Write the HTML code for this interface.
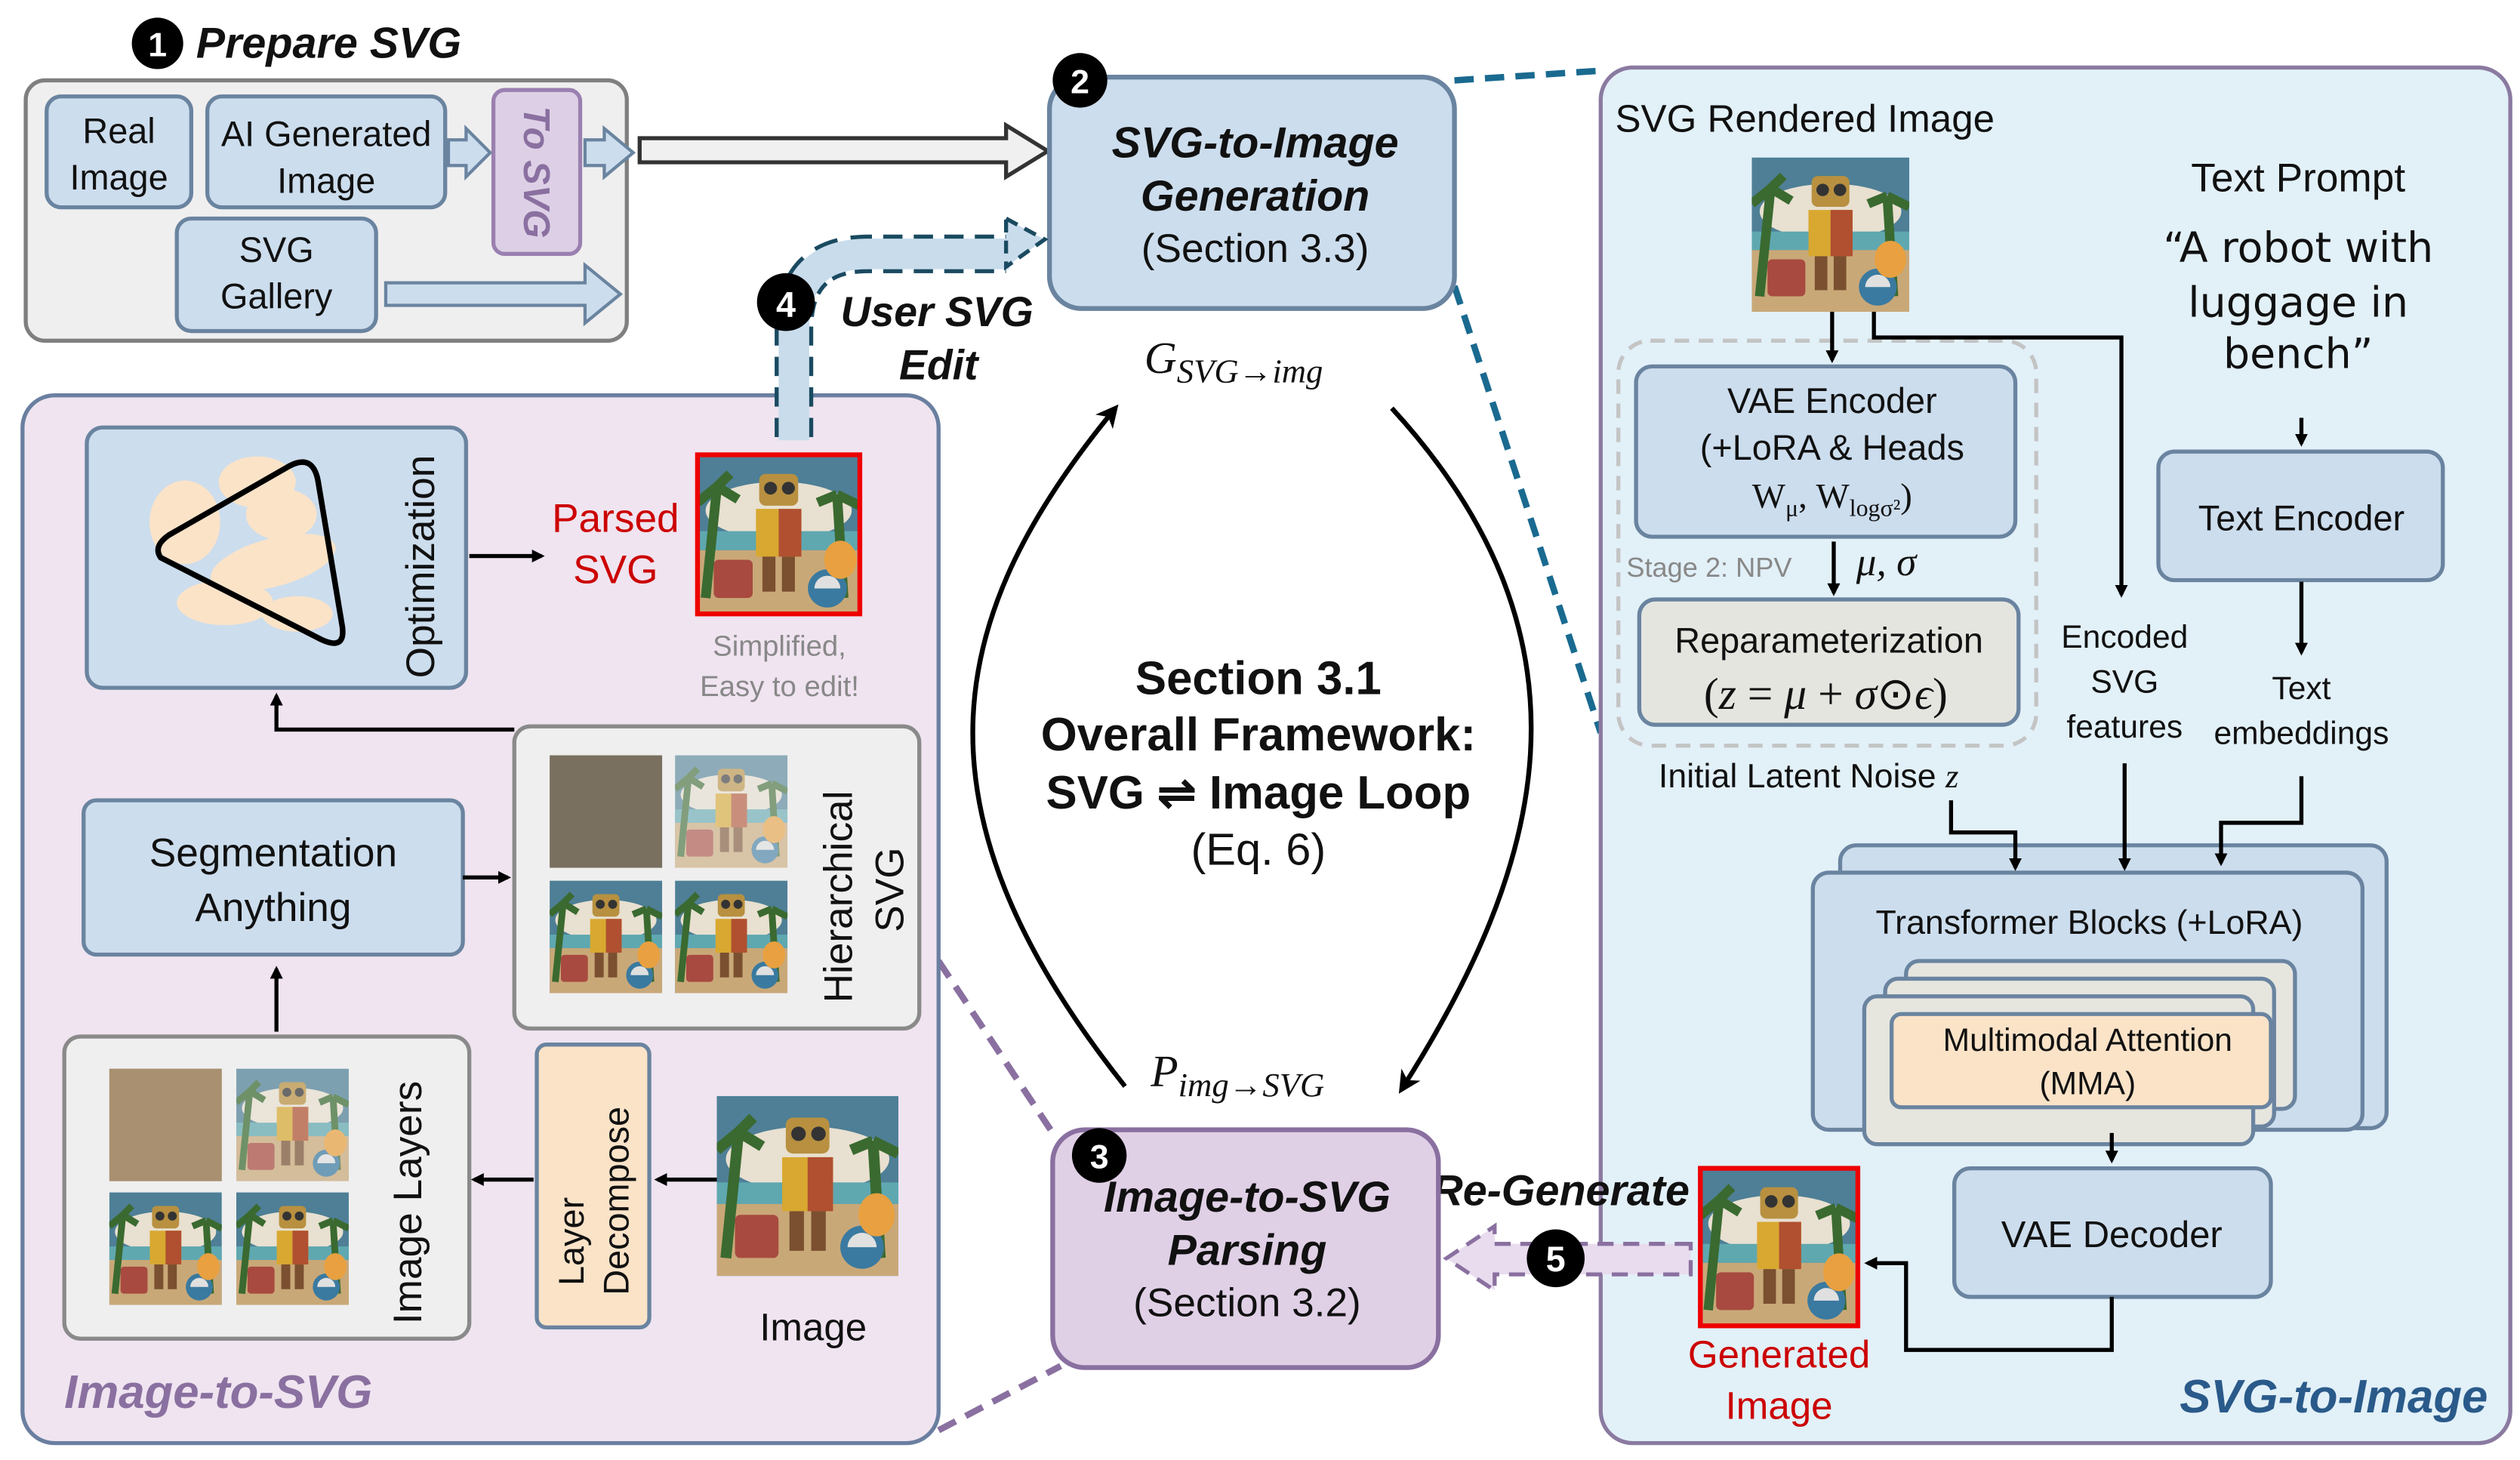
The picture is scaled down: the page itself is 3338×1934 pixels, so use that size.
<!DOCTYPE html>
<html><head><meta charset="utf-8"><style>
html,body{margin:0;padding:0;background:#fff;width:3338px;height:1934px;overflow:hidden}
svg{display:block}
text{font-family:"Liberation Sans",sans-serif;fill:#111}
.b{font-weight:bold}.i{font-style:italic}
.m{font-family:"Liberation Serif",serif;font-style:italic}
</style></head><body>
<svg width="3338" height="1934" viewBox="0 0 1568 908.5" xmlns="http://www.w3.org/2000/svg">
<defs>
<marker id="ah" markerWidth="8" markerHeight="8" refX="6" refY="4" orient="auto" markerUnits="userSpaceOnUse" viewBox="0 0 8 8"><path d="M0,0 L8,4 L0,8 Z" fill="#000"/></marker>
<marker id="ah2" markerWidth="14" markerHeight="14" refX="11" refY="7" orient="auto" markerUnits="userSpaceOnUse" viewBox="0 0 14 14"><path d="M0,0 L14,7 L0,14 L4,7 Z" fill="#000"/></marker>
<symbol id="robot" viewBox="0 0 100 100" preserveAspectRatio="none">
<rect width="100" height="100" fill="#4e7f96"/>
<ellipse cx="50" cy="35" rx="45" ry="18" fill="#e8e0d0"/>
<rect y="48" width="100" height="12" fill="#5fa8b0"/>
<rect y="60" width="100" height="40" fill="#c9a878"/>
<path d="M5,90 L12,20 M12,20 L0,30 M12,20 L25,28 M12,20 L20,12" stroke="#3a6a30" stroke-width="6"/>
<path d="M90,90 L86,25 M86,25 L100,32 M86,25 L74,30" stroke="#3a6a30" stroke-width="6"/>
<rect x="38" y="12" width="24" height="20" rx="4" fill="#b89040"/>
<circle cx="45" cy="21" r="4" fill="#333"/><circle cx="56" cy="21" r="4" fill="#333"/>
<rect x="36" y="34" width="28" height="30" fill="#d8a830"/>
<rect x="50" y="34" width="14" height="30" fill="#b05030"/>
<rect x="40" y="64" width="8" height="22" fill="#7a5030"/><rect x="52" y="64" width="8" height="22" fill="#7a5030"/>
<rect x="10" y="66" width="24" height="24" rx="3" fill="#a84a40"/>
<circle cx="80" cy="84" r="12" fill="#3a7aa0"/><path d="M72,84 A8,8 0 0 1 88,84" fill="#e0e0e0"/>
<ellipse cx="88" cy="66" rx="10" ry="12" fill="#e8a040"/>
</symbol>
</defs>

<!-- Prepare SVG -->
<circle cx="98" cy="27" r="16" fill="#000"/><text x="98" y="35" font-size="21" text-anchor="middle" class="b" style="fill:#fff">1</text>
<text x="122" y="36" font-size="27" class="b i">Prepare SVG</text>
<rect x="16" y="50" width="374" height="162" rx="12" fill="#efefef" stroke="#7f7f7f" stroke-width="2.5"/>
<rect x="29" y="60" width="90" height="69" rx="9" fill="#ccdded" stroke="#6a84a0" stroke-width="2.5"/>
<text x="74" y="89" font-size="22" text-anchor="middle">Real</text><text x="74" y="118" font-size="22" text-anchor="middle">Image</text>
<rect x="129" y="60" width="148" height="69" rx="9" fill="#ccdded" stroke="#6a84a0" stroke-width="2.5"/>
<text x="203" y="91" font-size="22" text-anchor="middle">AI Generated</text><text x="203" y="120" font-size="22" text-anchor="middle">Image</text>
<rect x="307" y="56" width="54" height="102" rx="7" fill="#ddd0e6" stroke="#9a80b0" stroke-width="2.5"/>
<text transform="translate(326,66) rotate(90)" font-size="23" class="b i" style="fill:#8a70a0">To SVG</text>
<rect x="110" y="136" width="124" height="70" rx="9" fill="#ccdded" stroke="#6a84a0" stroke-width="2.5"/>
<text x="172" y="163" font-size="22" text-anchor="middle">SVG</text><text x="172" y="192" font-size="22" text-anchor="middle">Gallery</text>
<path d="M279,87 L290,87 L290,80 L305,95 L290,110 L290,103 L279,103 Z" fill="#ccdded" stroke="#6a84a0" stroke-width="2"/>
<path d="M364,87 L376,87 L376,80 L394,95 L376,110 L376,103 L364,103 Z" fill="#ccdded" stroke="#6a84a0" stroke-width="2"/>
<path d="M240,176 L364,176 L364,165 L386,183 L364,201 L364,190 L240,190 Z" fill="#ccdded" stroke="#6a84a0" stroke-width="2"/>
<path d="M398,86 L626,86 L626,78 L652,94 L626,110 L626,101 L398,101 Z" fill="#f0f0f0" stroke="#333" stroke-width="2.5"/>

<!-- dashed connectors -->
<path d="M905,50 L996,44" stroke="#1a6a90" stroke-width="4" stroke-dasharray="12,7" fill="none"/>
<path d="M905,178 L996,456" stroke="#1a6a90" stroke-width="4" stroke-dasharray="12,7" fill="none"/>
<path d="M584,598 L655,705" stroke="#8a70a0" stroke-width="4" stroke-dasharray="12,7" fill="none"/>
<path d="M584,890 L660,850" stroke="#8a70a0" stroke-width="4" stroke-dasharray="12,7" fill="none"/>

<!-- Box 2 -->
<rect x="653" y="48" width="252" height="144" rx="20" fill="#ccdded" stroke="#6a84a0" stroke-width="3"/>
<circle cx="672" cy="50" r="17" fill="#000"/><text x="672" y="58" font-size="21" text-anchor="middle" class="b" style="fill:#fff">2</text>
<text x="781" y="98" font-size="27" text-anchor="middle" class="b i">SVG-to-Image</text>
<text x="781" y="131" font-size="27" text-anchor="middle" class="b i">Generation</text>
<text x="781" y="163" font-size="25" text-anchor="middle">(Section 3.3)</text>

<!-- Right panel -->
<rect x="996" y="42" width="566" height="856" rx="20" fill="#e2f0f8" stroke="#8a7aa0" stroke-width="2.5"/>
<text x="1005" y="82" font-size="24">SVG Rendered Image</text>
<use href="#robot" x="1090" y="98" width="98" height="96"/>
<text x="1430" y="119" font-size="25" text-anchor="middle">Text Prompt</text>
<text x="1430" y="163" font-size="26" text-anchor="middle" style="font-family:'DejaVu Sans',sans-serif">“A robot with</text>
<text x="1430" y="197" font-size="26" text-anchor="middle" style="font-family:'DejaVu Sans',sans-serif">luggage in</text>
<text x="1430" y="229" font-size="26" text-anchor="middle" style="font-family:'DejaVu Sans',sans-serif">bench”</text>
<rect x="1007" y="212" width="260" height="252" rx="20" fill="none" stroke="#c4c4c4" stroke-width="2.5" stroke-dasharray="9,6"/>
<rect x="1018" y="228" width="236" height="106" rx="10" fill="#ccdded" stroke="#6a84a0" stroke-width="2.5"/>
<text x="1140" y="257" font-size="22" text-anchor="middle">VAE Encoder</text>
<text x="1140" y="286" font-size="22" text-anchor="middle">(+LoRA &amp; Heads</text>
<text x="1140" y="316" font-size="22" text-anchor="middle" style="font-family:'Liberation Serif',serif">W<tspan font-size="15" dy="5">μ</tspan><tspan dy="-5">, W</tspan><tspan font-size="15" dy="5">logσ²</tspan><tspan dy="-5">)</tspan></text>
<text x="1012" y="359" font-size="17" style="fill:#888">Stage 2: NPV</text>
<line x1="1141" y1="337" x2="1141" y2="369" stroke="#000" stroke-width="2.5" marker-end="url(#ah)"/>
<text x="1155" y="358" font-size="25" class="m">μ, σ</text>
<rect x="1020" y="373" width="236" height="78" rx="10" fill="#e5e5e0" stroke="#6a84a0" stroke-width="2.5"/>
<text x="1138" y="406" font-size="22" text-anchor="middle">Reparameterization</text>
<text x="1136" y="441" font-size="28" text-anchor="middle" style="font-family:'Liberation Serif',serif">(<tspan font-style="italic">z</tspan> = <tspan font-style="italic">μ</tspan> + <tspan font-style="italic">σ</tspan>⊙<tspan font-style="italic">ϵ</tspan>)</text>
<text x="1032" y="490" font-size="21">Initial Latent Noise <tspan class="m">z</tspan></text>
<line x1="1140" y1="194" x2="1140" y2="224" stroke="#000" stroke-width="2.5" marker-end="url(#ah)"/>
<polyline points="1166,194 1166,210 1320,210 1320,370" fill="none" stroke="#000" stroke-width="2.5" marker-end="url(#ah)"/>
<text x="1322" y="403" font-size="20" text-anchor="middle">Encoded</text>
<text x="1322" y="431" font-size="20" text-anchor="middle">SVG</text>
<text x="1322" y="459" font-size="20" text-anchor="middle">features</text>
<line x1="1432" y1="260" x2="1432" y2="276" stroke="#000" stroke-width="2.5" marker-end="url(#ah)"/>
<rect x="1343" y="281" width="177" height="80" rx="10" fill="#ccdded" stroke="#6a84a0" stroke-width="2.5"/>
<text x="1432" y="330" font-size="22" text-anchor="middle">Text Encoder</text>
<line x1="1432" y1="362" x2="1432" y2="406" stroke="#000" stroke-width="2.5" marker-end="url(#ah)"/>
<text x="1432" y="435" font-size="20" text-anchor="middle">Text</text>
<text x="1432" y="463" font-size="20" text-anchor="middle">embeddings</text>
<rect x="1145" y="526" width="340" height="176" rx="10" fill="#ccdded" stroke="#6a84a0" stroke-width="2.5"/>
<rect x="1128" y="543" width="342" height="160" rx="10" fill="#ccdded" stroke="#6a84a0" stroke-width="2.5"/>
<text x="1300" y="581" font-size="21" text-anchor="middle">Transformer Blocks (+LoRA)</text>
<rect x="1186" y="598" width="242" height="92" rx="8" fill="#e6e6df" stroke="#6a84a0" stroke-width="2.5"/>
<rect x="1173" y="609" width="242" height="92" rx="8" fill="#e6e6df" stroke="#6a84a0" stroke-width="2.5"/>
<rect x="1160" y="620" width="242" height="92" rx="8" fill="#e6e6df" stroke="#6a84a0" stroke-width="2.5"/>
<rect x="1177" y="631" width="236" height="58" rx="6" fill="#fbe3c8" stroke="#6a84a0" stroke-width="2.5"/>
<text x="1299" y="654" font-size="20" text-anchor="middle">Multimodal Attention</text>
<text x="1299" y="681" font-size="20" text-anchor="middle">(MMA)</text>
<polyline points="1214,498 1214,518 1254,518 1254,540" fill="none" stroke="#000" stroke-width="2.5" marker-end="url(#ah)"/>
<line x1="1322" y1="475" x2="1322" y2="540" stroke="#000" stroke-width="2.5" marker-end="url(#ah)"/>
<polyline points="1432,483 1432,512 1382,512 1382,537" fill="none" stroke="#000" stroke-width="2.5" marker-end="url(#ah)"/>
<line x1="1314" y1="705" x2="1314" y2="722" stroke="#000" stroke-width="2.5" marker-end="url(#ah)"/>
<rect x="1216" y="727" width="197" height="80" rx="10" fill="#ccdded" stroke="#6a84a0" stroke-width="2.5"/>
<text x="1314" y="776" font-size="23" text-anchor="middle">VAE Decoder</text>
<polyline points="1314,807 1314,840 1186,840 1186,786 1162,786" fill="none" stroke="#000" stroke-width="2.5" marker-end="url(#ah)"/>
<use href="#robot" x="1058" y="727" width="98" height="98"/>
<rect x="1058" y="727" width="98" height="98" fill="none" stroke="#e00" stroke-width="3"/>
<text x="1107" y="851" font-size="24" text-anchor="middle" style="fill:#c00">Generated</text>
<text x="1107" y="883" font-size="24" text-anchor="middle" style="fill:#c00">Image</text>
<text x="1548" y="879" font-size="29" text-anchor="end" class="b i" style="fill:#2a5a8a">SVG-to-Image</text>

<!-- Re-generate arrow -->
<path d="M1052,774 L930,774 L930,763 L900,783 L930,803 L930,793 L1052,793 Z" fill="#e8dcee" stroke="#8a70a0" stroke-width="2.5" stroke-dasharray="10,6"/>
<circle cx="968" cy="783" r="18" fill="#000"/><text x="968" y="791" font-size="22" text-anchor="middle" class="b" style="fill:#fff">5</text>
<text x="971" y="750" font-size="27" text-anchor="middle" class="b i">Re-Generate</text>

<!-- Box 3 -->
<rect x="655" y="703" width="240" height="148" rx="20" fill="#e0d0e6" stroke="#8a70a0" stroke-width="3"/>
<text x="776" y="754" font-size="27" text-anchor="middle" class="b i">Image-to-SVG</text>
<text x="776" y="787" font-size="27" text-anchor="middle" class="b i">Parsing</text>
<text x="776" y="819" font-size="25" text-anchor="middle">(Section 3.2)</text>
<circle cx="684" cy="719" r="17" fill="#000"/><text x="684" y="727" font-size="21" text-anchor="middle" class="b" style="fill:#fff">3</text>

<!-- Loop -->
<path d="M700,676 C560,500 590,380 694,254" fill="none" stroke="#000" stroke-width="3" marker-end="url(#ah2)"/>
<path d="M866,254 C1000,400 960,540 872,678" fill="none" stroke="#000" stroke-width="3" marker-end="url(#ah2)"/>
<text x="712" y="232" font-size="28" class="m">G<tspan font-size="21" dy="6">SVG→img</tspan></text>
<text x="716" y="676" font-size="28" class="m">P<tspan font-size="21" dy="6">img→SVG</tspan></text>
<text x="783" y="432" font-size="29" text-anchor="middle" class="b">Section 3.1</text>
<text x="783" y="467" font-size="29" text-anchor="middle" class="b">Overall Framework:</text>
<text x="783" y="503" font-size="29" text-anchor="middle" class="b">SVG ⇌ Image Loop</text>
<text x="783" y="538" font-size="28" text-anchor="middle">(Eq. 6)</text>

<!-- Left panel -->
<rect x="14" y="246" width="570" height="652" rx="20" fill="#efe4f0" stroke="#6a7fa0" stroke-width="2.5"/>
<path d="M494,272 L494,205 Q494,158 540,158 L626,158" fill="none" stroke="#1a4a60" stroke-width="24" stroke-dasharray="12,7"/>
<path d="M494,274 L494,205 Q494,158 540,158 L628,158" fill="none" stroke="#c8dcec" stroke-width="19"/>
<path d="M626,136 L650,149 L626,166 Z" fill="#c8dcec" stroke="#1a4a60" stroke-width="2.5" stroke-dasharray="8,5"/>
<circle cx="489" cy="188" r="18" fill="#000"/><text x="489" y="197" font-size="22" text-anchor="middle" class="b" style="fill:#fff">4</text>
<text x="583" y="203" font-size="26" text-anchor="middle" class="b i">User SVG</text>
<text x="584" y="236" font-size="26" text-anchor="middle" class="b i">Edit</text>

<rect x="54" y="266" width="236" height="162" rx="10" fill="#ccdded" stroke="#6a84a0" stroke-width="2.5"/>
<g fill="#fbe3c8">
<ellipse cx="115" cy="325" rx="22" ry="26"/><ellipse cx="160" cy="300" rx="24" ry="16"/>
<ellipse cx="170" cy="350" rx="40" ry="15" transform="rotate(-15 170 350)"/>
<ellipse cx="140" cy="375" rx="30" ry="14"/><ellipse cx="185" cy="382" rx="22" ry="11"/>
<ellipse cx="175" cy="320" rx="22" ry="16"/>
</g>
<path d="M100,347 Q95,340 105,333 L180,290 Q195,282 198,300 L213,390 Q215,405 200,398 Z" fill="none" stroke="#000" stroke-width="3.5" stroke-linejoin="round"/>
<text transform="translate(270,422) rotate(-90)" font-size="25">Optimization</text>
<line x1="292" y1="346" x2="337" y2="346" stroke="#000" stroke-width="2.5" marker-end="url(#ah)"/>
<text x="383" y="331" font-size="25" text-anchor="middle" style="fill:#c00">Parsed</text>
<text x="383" y="363" font-size="25" text-anchor="middle" style="fill:#c00">SVG</text>
<use href="#robot" x="434" y="283" width="101" height="99"/>
<rect x="434" y="283" width="101" height="99" fill="none" stroke="#e00" stroke-width="3"/>
<text x="485" y="408" font-size="18" text-anchor="middle" style="fill:#888">Simplified,</text>
<text x="485" y="433" font-size="18" text-anchor="middle" style="fill:#888">Easy to edit!</text>

<polyline points="320,454 172,454 172,433" fill="none" stroke="#000" stroke-width="2.5" marker-end="url(#ah)"/>
<rect x="52" y="498" width="236" height="96" rx="8" fill="#ccdded" stroke="#6a84a0" stroke-width="2.5"/>
<text x="170" y="539" font-size="25" text-anchor="middle">Segmentation</text>
<text x="170" y="573" font-size="25" text-anchor="middle">Anything</text>
<line x1="288" y1="546" x2="316" y2="546" stroke="#000" stroke-width="2.5" marker-end="url(#ah)"/>
<rect x="320" y="452" width="252" height="188" rx="10" fill="#efefef" stroke="#8a8a8a" stroke-width="2.5"/>
<rect x="342" y="470" width="70" height="70" fill="#7a7060"/>
<use href="#robot" x="420" y="470" width="70" height="70" opacity="0.6"/>
<use href="#robot" x="342" y="548" width="70" height="70"/>
<use href="#robot" x="420" y="548" width="70" height="70"/>
<text transform="translate(530,624) rotate(-90)" font-size="25">Hierarchical</text>
<text transform="translate(562,580) rotate(-90)" font-size="25">SVG</text>

<line x1="172" y1="642" x2="172" y2="603" stroke="#000" stroke-width="2.5" marker-end="url(#ah)"/>
<rect x="40" y="645" width="252" height="188" rx="10" fill="#efefef" stroke="#8a8a8a" stroke-width="2.5"/>
<rect x="68" y="665" width="70" height="70" fill="#a89070"/>
<use href="#robot" x="147" y="665" width="70" height="70" opacity="0.7"/>
<use href="#robot" x="68" y="742" width="70" height="70"/>
<use href="#robot" x="147" y="742" width="70" height="70"/>
<text transform="translate(262,824) rotate(-90)" font-size="25">Image Layers</text>
<rect x="334" y="650" width="70" height="176" rx="6" fill="#fbe3c8" stroke="#6a84a0" stroke-width="2.5"/>
<text transform="translate(363,800) rotate(-90)" font-size="22">Layer</text>
<text transform="translate(391,806) rotate(-90)" font-size="22">Decompose</text>
<line x1="446" y1="734" x2="409" y2="734" stroke="#000" stroke-width="2.5" marker-end="url(#ah)"/>
<line x1="332" y1="734" x2="295" y2="734" stroke="#000" stroke-width="2.5" marker-end="url(#ah)"/>
<use href="#robot" x="446" y="682" width="113" height="112"/>
<text x="506" y="834" font-size="24" text-anchor="middle">Image</text>
<text x="40" y="876" font-size="29" class="b i" style="fill:#8a70a0">Image-to-SVG</text>
</svg>
</body></html>
